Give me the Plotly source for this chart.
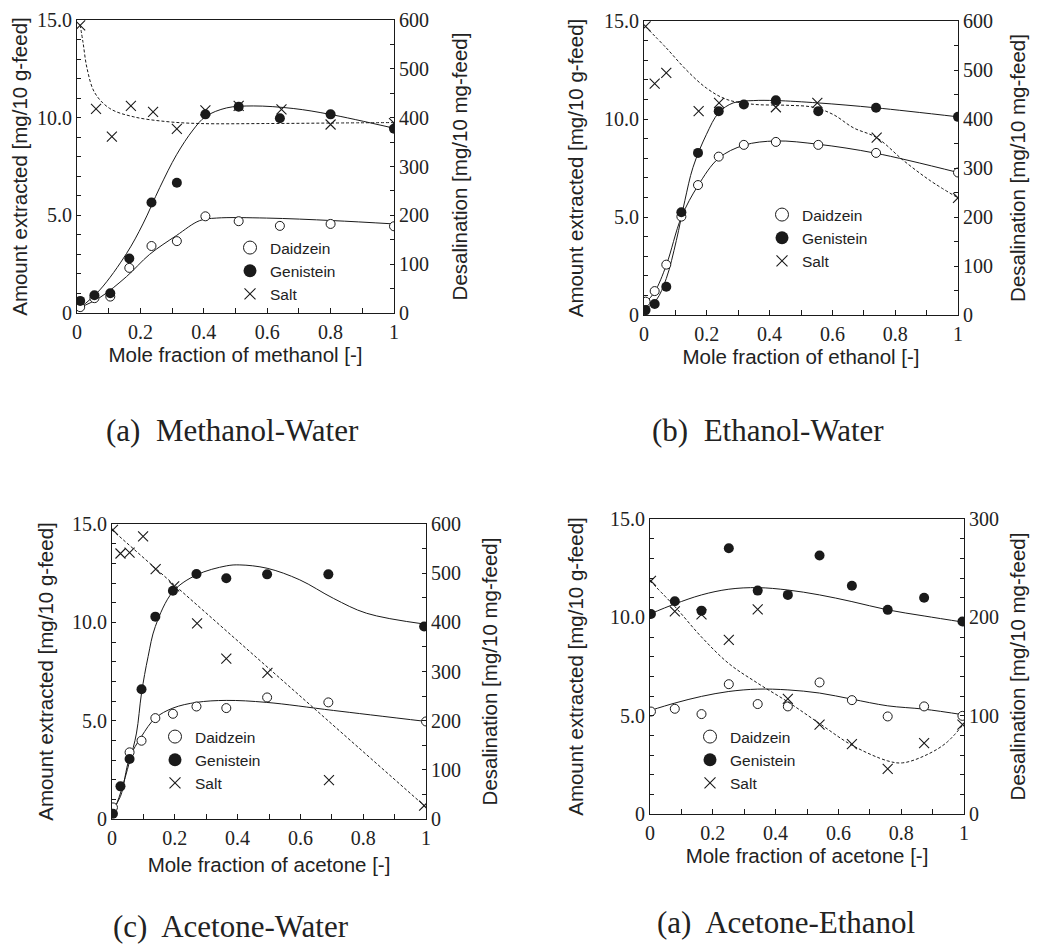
import plotly.graph_objects as go

W, H = 1038, 947
OFF = 8                      # browser body margin
FW, FH = W - OFF, H - OFF    # figure size so that page fits the window

# ---------------- data ----------------
# (a) Methanol-Water
a_x_pts = [0.01, 0.055, 0.105, 0.165, 0.235, 0.315, 0.405, 0.51, 0.64, 0.80, 1.0]
a_daid = [0.30, 0.76, 0.84, 2.31, 3.43, 3.68, 4.95, 4.70, 4.46, 4.56, 4.44]
a_geni = [0.62, 0.91, 1.01, 2.79, 5.66, 6.67, 10.17, 10.56, 9.97, 10.17, 9.43]
a_salt_x = [0.01, 0.06, 0.11, 0.17, 0.24, 0.315, 0.405, 0.51, 0.645, 0.80, 1.0]
a_salt = [589, 418, 361, 424, 412, 377, 415, 424, 417, 386, 389]
a_geni_fit_x = [0.005, 0.072, 0.156, 0.208, 0.261, 0.314, 0.366, 0.405, 0.472, 0.556, 0.682, 0.798, 1.0]
a_geni_fit = [0.2, 1.18, 3.04, 4.56, 6.42, 8.1, 9.37, 10.05, 10.5, 10.6, 10.47, 10.17, 9.46]
a_daid_fit_x = [0.005, 0.072, 0.156, 0.229, 0.314, 0.387, 0.44, 0.598, 0.808, 1.0]
a_daid_fit = [0.25, 0.79, 1.86, 3.0, 3.97, 4.73, 4.86, 4.86, 4.73, 4.56]
a_salt_fit_x = [0.01, 0.019, 0.032, 0.056, 0.103, 0.177, 0.282, 0.387, 0.6, 0.8, 1.0]
a_salt_fit = [590, 554, 500, 451, 419, 402, 392, 388, 388, 389, 390]

# (b) Ethanol-Water
b_x_pts = [0.005, 0.034, 0.071, 0.119, 0.172, 0.238, 0.318, 0.42, 0.555, 0.739, 1.0]
b_daid = [0.68, 1.22, 2.57, 5.02, 6.63, 8.08, 8.68, 8.83, 8.68, 8.27, 7.27]
b_geni = [0.25, 0.56, 1.44, 5.24, 8.27, 10.40, 10.74, 10.96, 10.40, 10.57, 10.11]
b_salt_x = [0.005, 0.034, 0.071, 0.174, 0.239, 0.42, 0.552, 0.741, 1.0]
b_salt = [589, 472, 494, 416, 433, 424, 433, 362, 239]
b_geni_fit_x = [0.003, 0.039, 0.071, 0.103, 0.13, 0.156, 0.199, 0.238, 0.284, 0.348, 0.42, 0.555, 0.739, 1.0]
b_geni_fit = [0.29, 0.76, 1.86, 3.8, 5.83, 7.53, 9.22, 10.32, 10.82, 10.94, 10.94, 10.82, 10.57, 10.11]
b_daid_fit_x = [0.003, 0.034, 0.071, 0.119, 0.172, 0.238, 0.318, 0.42, 0.555, 0.739, 1.0]
b_daid_fit = [0.59, 1.18, 2.54, 4.99, 6.6, 8.0, 8.66, 8.88, 8.71, 8.25, 7.27]
b_salt_fit_x = [0.004, 0.071, 0.135, 0.199, 0.263, 0.348, 0.454, 0.539, 0.603, 0.667, 0.741, 0.827, 0.912, 1.0]
b_salt_fit = [589, 545, 500, 463, 440, 430, 428, 424, 409, 382, 362, 315, 274, 239]

# (c) Acetone-Water
c_daid_x = [0.003, 0.056, 0.094, 0.138, 0.194, 0.269, 0.364, 0.494, 0.689, 1.0]
c_daid = [0.59, 3.39, 3.98, 5.13, 5.35, 5.72, 5.64, 6.18, 5.93, 4.96]
c_geni_x = [0.003, 0.027, 0.056, 0.094, 0.138, 0.194, 0.269, 0.364, 0.494, 0.689, 0.994]
c_geni = [0.27, 1.66, 3.05, 6.60, 10.29, 11.61, 12.46, 12.24, 12.44, 12.44, 9.79]
c_salt_x = [0.003, 0.027, 0.056, 0.099, 0.139, 0.198, 0.271, 0.364, 0.495, 0.691, 0.994]
c_salt = [588, 540, 542, 575, 508, 473, 398, 326, 297, 79, 27]
c_geni_fit_x = [0.002, 0.027, 0.056, 0.078, 0.094, 0.115, 0.138, 0.194, 0.269, 0.364, 0.407, 0.494, 0.598, 0.705, 0.811, 1.0]
c_geni_fit = [0.22, 1.32, 2.93, 4.37, 6.4, 8.26, 9.79, 11.56, 12.41, 12.87, 12.92, 12.75, 12.16, 11.22, 10.46, 9.9]
c_daid_fit_x = [0.002, 0.027, 0.056, 0.094, 0.138, 0.194, 0.269, 0.364, 0.492, 0.705, 1.0]
c_daid_fit = [0.47, 1.15, 3.1, 4.2, 5.13, 5.64, 5.93, 6.03, 5.93, 5.52, 4.96]
c_salt_fit_x = [0.0, 1.0]
c_salt_fit = [588, 24]

# (d) Acetone-Ethanol
d_x_pts = [0.003, 0.079, 0.164, 0.251, 0.343, 0.439, 0.54, 0.643, 0.757, 0.873, 0.995]
d_daid = [5.21, 5.35, 5.08, 6.60, 5.59, 5.47, 6.69, 5.79, 4.96, 5.47, 4.99]
d_geni = [10.17, 10.82, 10.34, 13.51, 11.36, 11.14, 13.14, 11.61, 10.38, 11.00, 9.79]
d_salt = [237, 206, 203, 177, 208, 117, 91, 71, 46, 72, 91]
d_geni_fit_x = [0.0, 0.079, 0.164, 0.251, 0.343, 0.439, 0.54, 0.643, 0.757, 0.873, 1.0]
d_geni_fit = [10.17, 10.68, 11.14, 11.43, 11.51, 11.39, 11.14, 10.8, 10.38, 10.07, 9.75]
d_daid_fit_x = [0.0, 0.079, 0.164, 0.251, 0.343, 0.439, 0.54, 0.643, 0.757, 0.873, 1.0]
d_daid_fit = [5.26, 5.64, 5.98, 6.23, 6.35, 6.31, 6.15, 5.84, 5.5, 5.33, 5.04]
d_salt_fit_x = [0.0, 0.079, 0.164, 0.251, 0.343, 0.439, 0.54, 0.643, 0.757, 0.804, 0.873, 0.942, 1.0]
d_salt_fit = [237, 211, 180, 153, 133, 114, 92, 70, 54, 52, 59, 72, 92]

x_titles = ["Mole fraction of methanol [-]", "Mole fraction of ethanol [-]",
            "Mole fraction of acetone [-]", "Mole fraction of acetone [-]"]
panel_titles = ["(a)  Methanol-Water", "(b)  Ethanol-Water",
                "(c)  Acetone-Water", "(a)  Acetone-Ethanol"]
y_left_title = "Amount extracted [mg/10 g-feed]"
y_right_title = "Desalination [mg/10 mg-feed]"
series_names = ["Daidzein", "Genistein", "Salt"]
left_ticks = [0, 5, 10, 15]
left_ticktext = ["0", "5.0", "10.0", "15.0"]
x_ticks = [0, 0.2, 0.4, 0.6, 0.8, 1.0]
x_ticktext = ["0", "0.2", "0.4", "0.6", "0.8", "1"]
right_max = [600, 600, 600, 300]

# ---------------- layout geometry (page pixels) ----------------
boxes = [(77, 394, 20, 313), (644, 958, 21, 315), (112, 426, 524, 819), (650, 964, 519, 814)]
legend_pos = [(250, 245), (782, 212), (175, 734), (710, 734)]
title_pos = [(232, 431), (768, 431), (231, 926), (786, 922)]
xt_standoff = [4, 2, 9, 3]
yl_standoff = [4, 14, 12, 20]
yr_standoff = [24, 18, 22, 12]

SERIF = "Liberation Serif"
SANS = "Liberation Sans"
BLACK = "#1a1a1a"
TXT = "#222"


def px_x(v):
    return (v - OFF) / FW


def px_y(v):
    return 1 - (v - OFF) / FH


panels = [
    dict(daid_x=a_x_pts, daid=a_daid, geni_x=a_x_pts, geni=a_geni, salt_x=a_salt_x, salt=a_salt,
         gfx=a_geni_fit_x, gf=a_geni_fit, dfx=a_daid_fit_x, df=a_daid_fit, sfx=a_salt_fit_x, sf=a_salt_fit),
    dict(daid_x=b_x_pts, daid=b_daid, geni_x=b_x_pts, geni=b_geni, salt_x=b_salt_x, salt=b_salt,
         gfx=b_geni_fit_x, gf=b_geni_fit, dfx=b_daid_fit_x, df=b_daid_fit, sfx=b_salt_fit_x, sf=b_salt_fit),
    dict(daid_x=c_daid_x, daid=c_daid, geni_x=c_geni_x, geni=c_geni, salt_x=c_salt_x, salt=c_salt,
         gfx=c_geni_fit_x, gf=c_geni_fit, dfx=c_daid_fit_x, df=c_daid_fit, sfx=c_salt_fit_x, sf=c_salt_fit),
    dict(daid_x=d_x_pts, daid=d_daid, geni_x=d_x_pts, geni=d_geni, salt_x=d_x_pts, salt=d_salt,
         gfx=d_geni_fit_x, gf=d_geni_fit, dfx=d_daid_fit_x, df=d_daid_fit, sfx=d_salt_fit_x, sf=d_salt_fit),
]

fig = go.Figure()
layout = dict(template="none", width=FW, height=FH,
              margin=dict(l=0, r=0, t=0, b=0, pad=0, autoexpand=False),
              paper_bgcolor="white", plot_bgcolor="rgba(0,0,0,0)", showlegend=True)
annotations = []

for i, p in enumerate(panels):
    n = i + 1
    xa = "x" if n == 1 else f"x{n}"
    yl_idx = 2 * i + 1
    yr_idx = 2 * i + 2
    yl = "y" if yl_idx == 1 else f"y{yl_idx}"
    yr = f"y{yr_idx}"
    leg = "legend" if n == 1 else f"legend{n}"

    # fitted curves
    fig.add_trace(go.Scatter(x=p["gfx"], y=p["gf"], mode="lines", xaxis=xa, yaxis=yl,
                             line=dict(color=BLACK, width=1, shape="spline", smoothing=1.0),
                             showlegend=False, hoverinfo="skip"))
    fig.add_trace(go.Scatter(x=p["dfx"], y=p["df"], mode="lines", xaxis=xa, yaxis=yl,
                             line=dict(color=BLACK, width=1, shape="spline", smoothing=1.0),
                             showlegend=False, hoverinfo="skip"))
    fig.add_trace(go.Scatter(x=p["sfx"], y=p["sf"], mode="lines", xaxis=xa, yaxis=yr,
                             line=dict(color=BLACK, width=1, dash="3px,2px",
                                       shape="spline" if len(p["sfx"]) > 2 else "linear", smoothing=1.0),
                             showlegend=False, hoverinfo="skip"))
    # data points
    fig.add_trace(go.Scatter(x=p["daid_x"], y=p["daid"], mode="markers", xaxis=xa, yaxis=yl,
                             marker=dict(symbol="circle", size=9, color="white", line=dict(color=BLACK, width=1)),
                             showlegend=False, name="Daidzein"))
    fig.add_trace(go.Scatter(x=p["geni_x"], y=p["geni"], mode="markers", xaxis=xa, yaxis=yl,
                             marker=dict(symbol="circle", size=10, color=BLACK, line=dict(color=BLACK, width=0)),
                             showlegend=False, name="Genistein"))
    fig.add_trace(go.Scatter(x=p["salt_x"], y=p["salt"], mode="markers", xaxis=xa, yaxis=yr,
                             marker=dict(symbol="x-thin-open", size=10, color=BLACK, line=dict(color=BLACK, width=1.1)),
                             showlegend=False, name="Salt"))
    # legend entries
    fig.add_trace(go.Scatter(x=[None], y=[None], mode="markers", xaxis=xa, yaxis=yl, name=series_names[0],
                             marker=dict(symbol="circle", size=13, color="white", line=dict(color=BLACK, width=1)),
                             legend=leg))
    fig.add_trace(go.Scatter(x=[None], y=[None], mode="markers", xaxis=xa, yaxis=yl, name=series_names[1],
                             marker=dict(symbol="circle", size=13, color=BLACK, line=dict(width=0)),
                             legend=leg))
    fig.add_trace(go.Scatter(x=[None], y=[None], mode="markers", xaxis=xa, yaxis=yl, name=series_names[2],
                             marker=dict(symbol="x-thin-open", size=11, color=BLACK, line=dict(color=BLACK, width=1.1)),
                             legend=leg))

    x0, x1, y0, y1 = boxes[i]
    xdom = [px_x(x0), px_x(x1)]
    ydom = [px_y(y1), px_y(y0)]

    xkey = "xaxis" if n == 1 else f"xaxis{n}"
    ylkey = "yaxis" if yl_idx == 1 else f"yaxis{yl_idx}"
    yrkey = f"yaxis{yr_idx}"

    layout[xkey] = dict(domain=xdom, anchor=yl, range=[0, 1.0], showline=True, linecolor=BLACK,
                        linewidth=1, mirror=True, showgrid=False, zeroline=False, automargin=False,
                        tickmode="array", tickvals=x_ticks, ticktext=x_ticktext,
                        ticks="inside", ticklen=5, tickcolor=BLACK, ticklabelstandoff=1,
                        ticklabeloverflow="allow",
                        minor=dict(dtick=0.1, tick0=0, ticks="inside", ticklen=5, tickcolor=BLACK),
                        tickfont=dict(family=SERIF, size=20, color=TXT),
                        title=dict(text=x_titles[i], font=dict(family=SANS, size=20.5, color=TXT),
                                   standoff=xt_standoff[i]))
    layout[ylkey] = dict(domain=ydom, anchor=xa, range=[0, 15], showline=True, linecolor=BLACK,
                         linewidth=1, showgrid=False, zeroline=False, automargin=False,
                         tickmode="array", tickvals=left_ticks, ticktext=left_ticktext,
                         ticks="inside", ticklen=4, tickcolor=BLACK, ticklabeloverflow="allow",
                         minor=dict(dtick=1, tick0=0, ticks="inside", ticklen=4, tickcolor=BLACK),
                         tickfont=dict(family=SERIF, size=20, color=TXT),
                         title=dict(text=y_left_title, font=dict(family=SANS, size=20.5, color=TXT),
                                    standoff=yl_standoff[i]))
    rmax = right_max[i]
    layout[yrkey] = dict(domain=ydom, anchor=xa, overlaying=yl, side="right", range=[0, rmax],
                         showline=True, linecolor=BLACK, linewidth=1, showgrid=False, zeroline=False,
                         automargin=False, ticklabeloverflow="allow",
                         dtick=100, tick0=0, ticks="inside", ticklen=4, tickcolor=BLACK,
                         minor=dict(dtick=20 if rmax == 300 else 50, tick0=0, ticks="inside",
                                    ticklen=4, tickcolor=BLACK),
                         tickfont=dict(family=SERIF, size=20, color=TXT),
                         title=dict(text=y_right_title, font=dict(family=SANS, size=20.5, color=TXT),
                                    standoff=yr_standoff[i]))

    lx, ly = legend_pos[i]
    layout[leg] = dict(x=px_x(lx - 20), y=px_y(ly - 14), xanchor="left", yanchor="top",
                       bgcolor="rgba(0,0,0,0)", borderwidth=0,
                       font=dict(family=SANS, size=15.5, color=TXT), tracegroupgap=0)

    tx, ty = title_pos[i]
    annotations.append(dict(text=panel_titles[i], x=px_x(tx), y=px_y(ty), xref="paper", yref="paper",
                            xanchor="center", yanchor="middle", showarrow=False,
                            font=dict(family=SERIF, size=31, color=TXT)))

layout["annotations"] = annotations
fig.update_layout(**layout)
fig.write_html("out.html")
